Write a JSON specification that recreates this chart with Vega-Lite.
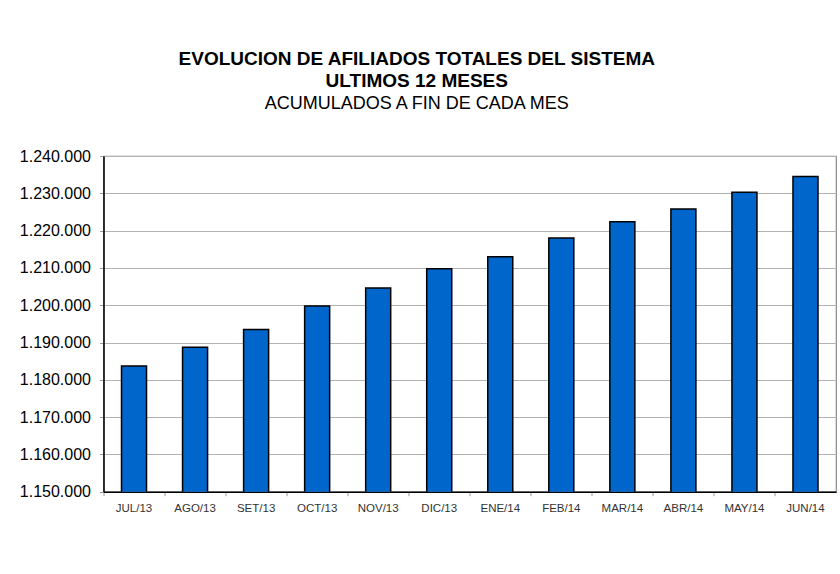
{
  "$schema": "https://vega.github.io/schema/vega-lite/v6.json",
  "width": 732.5,
  "height": 335.7,
  "autosize": {"type": "none"},
  "padding": {"left": 103.5, "top": 156, "right": 4, "bottom": 82.3},
  "background": "white",
  "title": {
    "text": ["EVOLUCION DE AFILIADOS TOTALES DEL SISTEMA", "ULTIMOS 12 MESES"],
    "subtitle": "ACUMULADOS A FIN DE CADA MES",
    "anchor": "middle",
    "dx": -53,
    "font": "Liberation Sans Narrow, Arial Narrow, Liberation Sans",
    "fontSize": 19,
    "fontWeight": "bold",
    "lineHeight": 22,
    "color": "#000000",
    "subtitleFont": "Liberation Sans, Arial",
    "subtitleFontSize": 18,
    "subtitleColor": "#000000",
    "subtitlePadding": 4,
    "offset": 35
  },
  "data": {
    "values": [
      {"mes": "JUL/13", "afiliados": 1183700},
      {"mes": "AGO/13", "afiliados": 1188700},
      {"mes": "SET/13", "afiliados": 1193500},
      {"mes": "OCT/13", "afiliados": 1199800},
      {"mes": "NOV/13", "afiliados": 1204600},
      {"mes": "DIC/13", "afiliados": 1209800},
      {"mes": "ENE/14", "afiliados": 1213000},
      {"mes": "FEB/14", "afiliados": 1218000},
      {"mes": "MAR/14", "afiliados": 1222400},
      {"mes": "ABR/14", "afiliados": 1225800},
      {"mes": "MAY/14", "afiliados": 1230300},
      {"mes": "JUN/14", "afiliados": 1234500}
    ]
  },
  "mark": {"type": "bar", "width": {"band": 0.41}, "fill": "#0066CC", "stroke": "#000000", "strokeWidth": 1.5, "clip": true},
  "encoding": {
    "x": {
      "field": "mes",
      "type": "nominal",
      "sort": null,
      "scale": {"paddingInner": 0, "paddingOuter": 0},
      "axis": {
        "title": null,
        "labelAngle": 0,
        "labelFont": "Liberation Sans Narrow, Arial Narrow, Liberation Sans",
        "labelFontSize": 11.5,
        "labelColor": "#333333",
        "labelPadding": 7,
        "bandPosition": 0,
        "tickSize": 4,
        "tickColor": "#999999",
        "domainColor": "#000000",
        "domainWidth": 1.5,
        "grid": false
      }
    },
    "y": {
      "field": "afiliados",
      "type": "quantitative",
      "scale": {"domain": [1150000, 1240000], "zero": false, "nice": false},
      "axis": {
        "title": null,
        "values": [1150000, 1160000, 1170000, 1180000, 1190000, 1200000, 1210000, 1220000, 1230000, 1240000],
        "format": ",.0f",
        "labelFont": "Liberation Sans, Arial",
        "labelFontSize": 16,
        "labelColor": "#000000",
        "labelPadding": 9,
        "tickSize": 4,
        "tickColor": "#999999",
        "domainColor": "#000000",
        "domainWidth": 1.5,
        "grid": true,
        "gridColor": "#b3b3b3",
        "gridWidth": 1
      }
    }
  },
  "config": {
    "locale": {"number": {"decimal": ",", "thousands": ".", "grouping": [3], "currency": ["", "$"]}},
    "view": {"stroke": "#888888", "strokeWidth": 1.2}
  }
}
